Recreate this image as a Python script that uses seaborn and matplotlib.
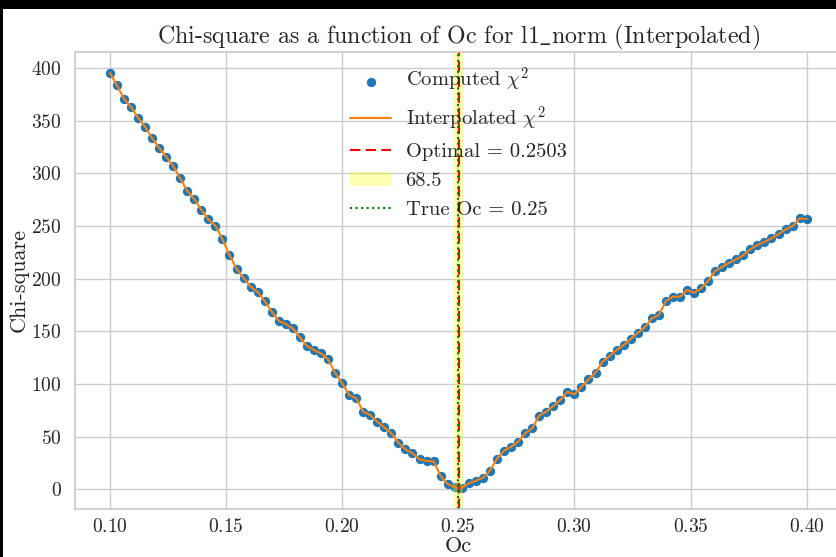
import numpy as np
import pandas as pd
import matplotlib
matplotlib.use("Agg")
import matplotlib.pyplot as plt
import seaborn as sns
from matplotlib.patches import Rectangle

# ---- data ----
oc_start, oc_stop, n_points = 0.10, 0.40, 100
oc_values = np.linspace(oc_start, oc_stop, n_points)
chi2_values = [
    395.5, 383.6, 370.8, 363.0, 352.8, 344.2, 333.5, 324.0, 315.8, 306.9,
    295.3, 283.2, 275.6, 265.2, 256.3, 250.3, 237.3, 222.4, 209.5, 200.6,
    192.4, 187.3, 178.8, 168.6, 159.8, 156.9, 152.8, 144.3, 136.0, 132.2,
    129.1, 123.4, 110.7, 100.6, 89.5, 86.4, 73.7, 70.5, 64.0, 58.9,
    53.2, 44.2, 38.0, 34.2, 28.5, 26.9, 26.6, 12.6, 5.0, 2.0,
    1.5, 5.7, 8.2, 11.0, 17.7, 29.1, 36.6, 40.4, 45.2, 53.2,
    57.9, 69.9, 73.7, 79.1, 84.8, 92.7, 90.2, 97.4, 104.4, 110.7,
    121.1, 126.6, 132.3, 137.0, 142.7, 148.7, 153.8, 162.3, 165.5, 178.8,
    182.9, 182.9, 189.2, 186.7, 190.8, 198.0, 207.2, 211.3, 215.1, 218.4,
    222.4, 227.9, 231.9, 234.8, 238.3, 242.1, 246.8, 250.0, 257.3, 256.6,
]
optimal_oc = 0.2503
true_oc = 0.25
band_lo, band_hi = 0.2478, 0.2522
band_label = "68.5"
title = r"Chi-square as a function of Oc for l1$\_$norm (Interpolated)"

sns.set_theme(style="whitegrid")
plt.rcParams.update({
    "font.family": ["cmr10", "DejaVu Serif"],
    "mathtext.fontset": "cm",
    "axes.formatter.use_mathtext": True,
    "axes.unicode_minus": False,
})

W, H = 837, 557
fig = plt.figure(figsize=(W / 100, H / 100), dpi=100, facecolor="black")
fig.patches.append(Rectangle((3 / W, 0), 1, (H - 9) / H, transform=fig.transFigure,
                             facecolor="white", edgecolor="none", zorder=-5))
ax = fig.add_axes([75 / W, 48.5 / H, 766.5 / W, 456.5 / H])

df = pd.DataFrame({"Oc": oc_values, "chi2": chi2_values})
sns.scatterplot(data=df, x="Oc", y="chi2", ax=ax, s=45, color="#1f77b4",
                linewidth=0, label=r"Computed $\chi^2$")
sns.lineplot(data=df, x="Oc", y="chi2", ax=ax, color="#ff7f0e", linewidth=1.5,
             label=r"Interpolated $\chi^2$")
ax.axvline(optimal_oc, color="red", linestyle=(0, (5, 2.5)), linewidth=1.5,
           label=f"Optimal = {optimal_oc}")
ax.axvspan(band_lo, band_hi, color="yellow", alpha=0.3, linewidth=0,
           label=band_label)
ax.axvline(true_oc, color="green", linestyle=":", linewidth=1.5,
           label=f"True Oc = {true_oc}")

handles, labels = ax.get_legend_handles_labels()
order = [r"Computed $\chi^2$", r"Interpolated $\chi^2$", f"Optimal = {optimal_oc}",
         band_label, f"True Oc = {true_oc}"]
hmap = dict(zip(labels, handles))
ax.legend([hmap[k] for k in order], order, loc="upper center", frameon=False,
          fontsize=14.8, labelspacing=0.5, borderaxespad=0.3,
          handletextpad=0.7)

ax.set_title(title, fontsize=17.2)
ax.set_xlabel("Oc", fontsize=16, labelpad=0)
ax.set_ylabel("Chi-square", fontsize=16, labelpad=2)
ax.tick_params(labelsize=14)
ax.tick_params(axis="x", pad=1)

fig.savefig("out.png", dpi=100, facecolor=fig.get_facecolor())
